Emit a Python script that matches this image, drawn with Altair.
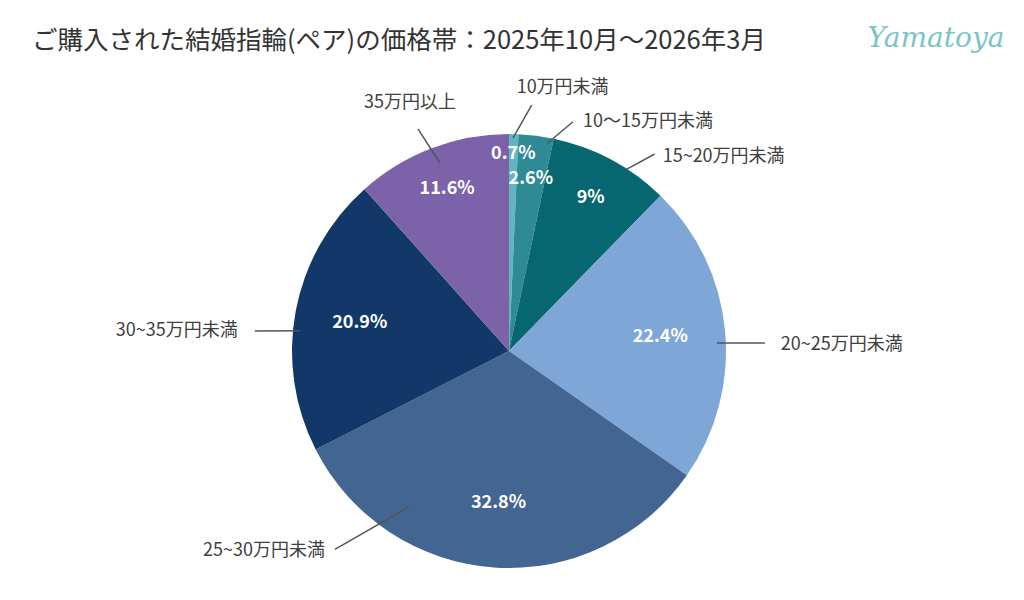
import math
import altair as alt
import pandas as pd

# ---------------- data ----------------
categories = ["10万円未満", "10〜15万円未満", "15~20万円未満", "20~25万円未満",
              "25~30万円未満", "30~35万円未満", "35万円以上"]
shares = [0.7, 2.6, 9, 22.4, 32.8, 20.9, 11.6]
colors = ["#62B5C1", "#2E8B96", "#076770", "#7EA7D8", "#436591", "#123769", "#7B62A9"]
title_text = "ご購入された結婚指輪(ペア)の価格帯：2025年10月～2026年3月"
logo_text = "Yamatoya"

# ---------------- layout ----------------
W, H = 1008, 576
CX, CY, R = 501, 343, 217
FONT = "Noto Sans CJK JP"
# per label: leader start-angle nudge, end-angle nudge (deg, from slice middle),
# leader inner/outer radius, text align, dx, dy (from leader end)
label_layout = [
    (-0.2, 4.0, 213, 247, "left", -15, -17),
    (3.2, 8.4, 211, 238, "left", 10, 0),
    (4.6, 8.4, 215, 245, "left", 8, 3),
    (3.2, 3.6, 208, 256, "left", 16, 2),
    (28.7, 37.3, 185, 264, "right", -10, 2),
    (-5.1, -6.1, 210, 255, "right", -17, 0),
    (0.7, -1.4, 200, 240, "center", -8, -26),
]

rows = []
acc = 0.0
for cat, v, lay in zip(categories, shares, label_layout):
    start = acc
    end = acc + v
    acc = end
    mid = (start + end) / 2
    sn, en, r1, r2, align, dx, dy = lay
    a1 = math.radians(mid * 3.6 + sn)
    a2 = math.radians(mid * 3.6 + en)
    x1, y1 = CX + r1 * math.sin(a1), CY - r1 * math.cos(a1)
    x2, y2 = CX + r2 * math.sin(a2), CY - r2 * math.cos(a2)
    if v > 15:
        pr = 0.7 * R
    elif v >= 2:
        pr = 0.8 * R
    else:
        pr = 0.91 * R
    rows.append(dict(category=cat, value=v, start=start, end=end, mid=mid,
                     pct=f"{v:g}%", pr=pr, x1=x1, y1=y1, x2=x2, y2=y2,
                     tx=x2 + dx, ty=y2 + dy, align=align))
df = pd.DataFrame(rows)

theta_scale = alt.Scale(domain=[0, 100], range=[0, 2 * math.pi])
base = alt.Chart(df)

arcs = base.mark_arc(outerRadius=R).encode(
    theta=alt.Theta("start:Q", scale=theta_scale),
    theta2="end:Q",
    color=alt.Color("category:N", scale=alt.Scale(domain=categories, range=colors), legend=None),
    x=alt.value(CX),
    y=alt.value(CY),
)

pct = base.mark_text(font=FONT, fontSize=18, fontWeight="bold", color="white",
                     align="center", baseline="middle").encode(
    theta=alt.Theta("mid:Q", scale=theta_scale),
    radius=alt.Radius("pr:Q", scale=None),
    text="pct:N",
    x=alt.value(CX),
    y=alt.value(CY),
)

leaders = base.mark_rule(color="#555555", strokeWidth=1.5).encode(
    x=alt.X("x1:Q", scale=None, axis=None),
    y=alt.Y("y1:Q", scale=None, axis=None),
    x2="x2:Q",
    y2="y2:Q",
)

def label_layer(al):
    return base.transform_filter(alt.datum.align == al).mark_text(
        font=FONT, fontSize=18, color="#404040", align=al, baseline="middle"
    ).encode(
        x=alt.X("tx:Q", scale=None, axis=None),
        y=alt.Y("ty:Q", scale=None, axis=None),
        text="category:N",
    )

title = alt.Chart(pd.DataFrame({"t": [title_text]})).mark_text(
    font=FONT, fontSize=25.5, color="#333333", align="left", baseline="middle"
).encode(text="t:N", x=alt.value(24), y=alt.value(33))

logo = alt.Chart(pd.DataFrame({"t": [logo_text]})).mark_text(
    font="DejaVu Serif", fontSize=28, fontStyle="italic", color="#7CC4C8",
    align="center", baseline="middle"
).encode(text="t:N", x=alt.value(928), y=alt.value(31))

chart = alt.layer(
    arcs, pct, leaders, label_layer("left"), label_layer("right"), label_layer("center"),
    title, logo
).properties(
    width=W, height=H, padding=0, autosize="none"
).configure_view(stroke=None)

chart.save("out.html", embed_options={"renderer": "svg", "actions": False})
